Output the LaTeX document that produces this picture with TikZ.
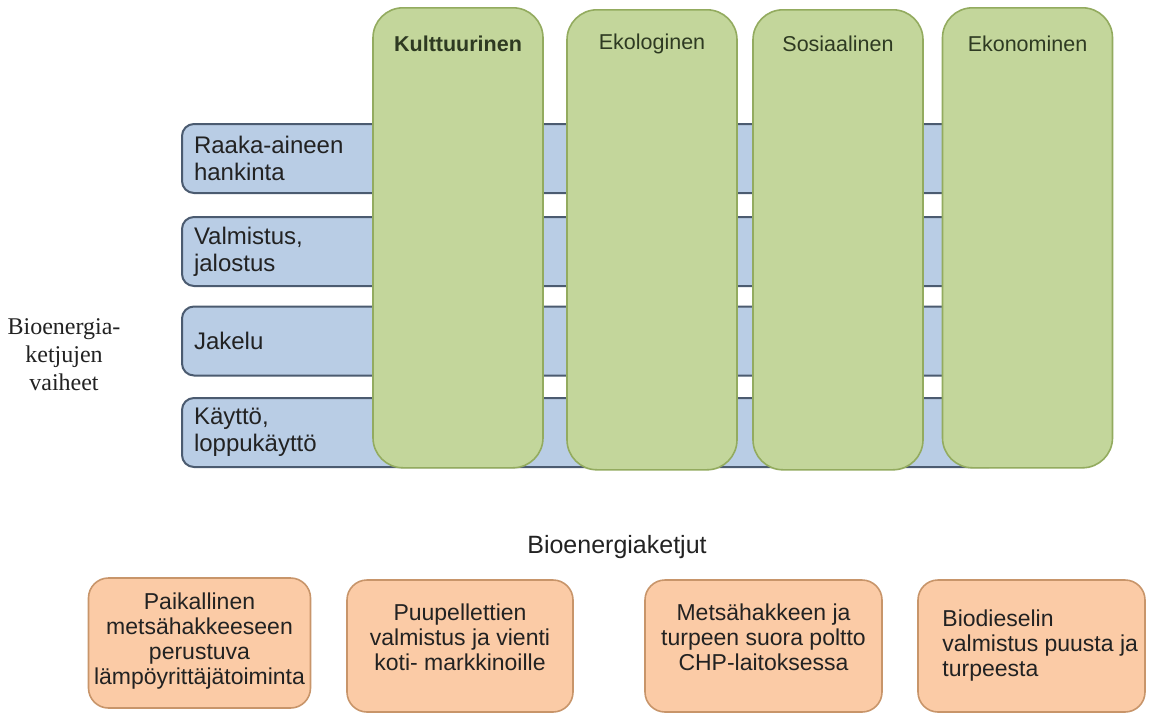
\documentclass[tikz,border=0pt]{standalone}
\usepackage{fontspec}
\setmainfont{Liberation Sans}
\newfontfamily\labelserif{Liberation Serif}
\definecolor{barfill}{HTML}{B9CDE5}
\definecolor{barline}{HTML}{4B5B70}
\definecolor{colfill}{HTML}{C3D69B}
\definecolor{colline}{HTML}{93AB5F}
\definecolor{chainfill}{HTML}{FBCBA6}
\definecolor{chainline}{HTML}{C8956A}
\definecolor{ink}{HTML}{222222}
\definecolor{headink}{HTML}{2E3A22}

\begin{document}
\begin{tikzpicture}[x=1pt,y=-1pt,
  stage/.style={draw=barline, line width=2pt, fill=barfill, rounded corners=12pt,
    minimum width=819pt, minimum height=69pt, text width=795pt, align=left,
    inner sep=0pt, anchor=west, text=ink, font=\fontsize{24}{27}\selectfont},
  column/.style={draw=colline, line width=1.6pt, fill=colfill, rounded corners=30pt,
    minimum width=170pt, inner sep=0pt, anchor=north},
  header/.style={text=headink, inner sep=0pt, font=\fontsize{21.5}{24}\selectfont},
  chain/.style={draw=chainline, line width=1.6pt, fill=chainfill, rounded corners=20pt,
    inner sep=0pt},
  chaintext/.style={text=ink, inner sep=0pt, align=center, font=\fontsize{23}{25}\selectfont}
]
\useasboundingbox (0,0) rectangle (1157,715);
\fill[white] (0,0) rectangle (1157,715);

% stages of the bioenergy chain (horizontal bars)
\node[stage] (s1) at (181,158.5) {Raaka-aineen\\hankinta};
\node[stage] (s2) at (181,251.5) {Valmistus,\\jalostus};
\node[stage] (s3) at (181,341) {Jakelu};
\node[stage] (s4) at (181,432.5) {Käyttö,\\loppukäyttö};

% sustainability dimensions (vertical columns)
\node[column, minimum height=460pt] (c1) at (458,7) {};
\node[column, minimum height=460pt] (c2) at (652,9) {};
\node[column, minimum height=460pt] (c3) at (838,9) {};
\node[column, minimum height=460pt] (c4) at (1027.5,7) {};

\node[header, font=\fontsize{21.5}{24}\selectfont\bfseries] (h1) at ([yshift=-37pt]c1.north) {Kulttuurinen};
\node[header] (h2) at ([yshift=-35pt]c2.north) {Ekologinen};
\node[header] (h3) at ([yshift=-35pt]c3.north) {Sosiaalinen};
\node[header] (h4) at ([yshift=-37pt]c4.north) {Ekonominen};

% side label
\node[text=ink, inner sep=0pt, align=center, font=\labelserif\fontsize{24}{28}\selectfont]
  (phases) at (64,355) {Bioenergia-\\ketjujen\\vaiheet};

% example chains
\node[text=ink, inner sep=0pt, font=\fontsize{25}{28}\selectfont] (chains) at (617,547) {Bioenergiaketjut};

\node[chain, minimum width=222pt, minimum height=130pt] (k1) at (199.5,643) {};
\node[chain, minimum width=226pt, minimum height=132pt] (k2) at (460,646) {};
\node[chain, minimum width=237pt, minimum height=132pt] (k3) at (763.5,646) {};
\node[chain, minimum width=227pt, minimum height=132pt] (k4) at (1031.5,646) {};

\node[chaintext] (t1) at ([yshift=2pt]k1.center) {Paikallinen\\metsähakkeeseen\\perustuva\\lämpöyrittäjätoiminta};
\node[chaintext] (t2) at ([yshift=9pt]k2.center) {Puupellettien\\valmistus ja vienti\\koti- markkinoille};
\node[chaintext] (t3) at ([yshift=9pt]k3.center) {Metsähakkeen ja\\turpeen suora poltto\\CHP-laitoksessa};
\node[chaintext, align=left, anchor=west] (t4) at ([xshift=25pt]k4.west) {Biodieselin\\valmistus puusta ja\\turpeesta};
\end{tikzpicture}
\end{document}
